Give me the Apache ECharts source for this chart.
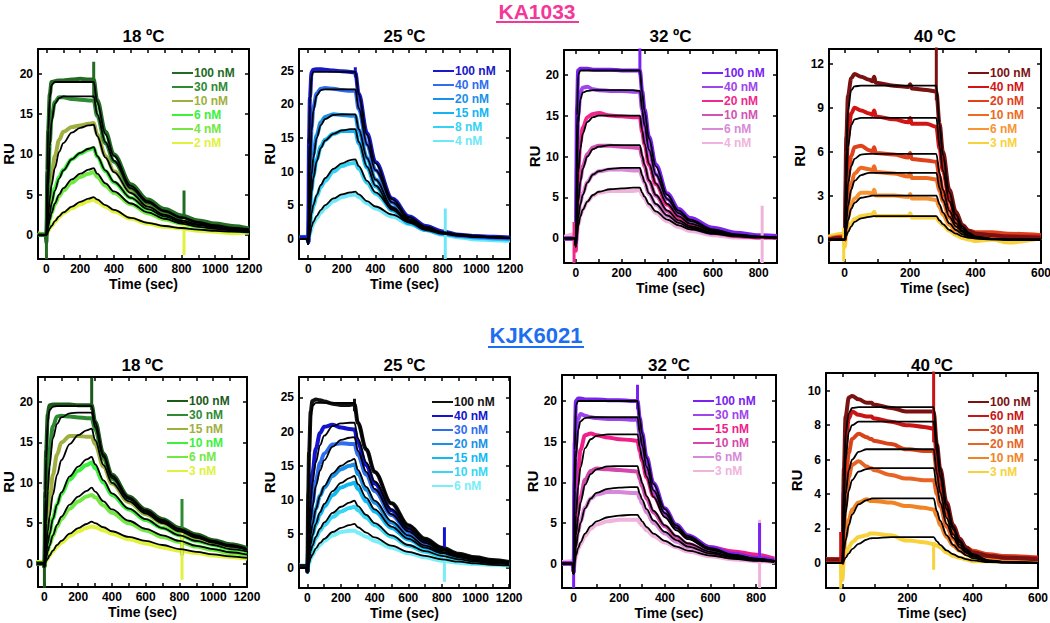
<!DOCTYPE html>
<html><head><meta charset="utf-8">
<script src="https://cdn.jsdelivr.net/npm/echarts@6/dist/echarts.min.js"></script>
<style>html,body{margin:0;padding:0;background:#fff}#c{width:1050px;height:623px}</style>
</head><body><div id="c"></div>
<script>
// ---------- time grids (s) ----------
const tLong  = [-50,-5,0,5,10,20,30,50,75,100,150,200,250,280,300,350,400,500,600,700,800,900,1000,1100,1200];
const tMid   = [-50,-5,0,5,10,20,30,50,75,100,150,200,250,280,290,300,320,350,400,450,500,600,700,800,880];
const tShort = [-50,-5,0,5,10,20,30,50,75,85,90,95,150,195,200,205,250,280,290,300,320,340,360,380,400,450,500,600];

// ---------- tick labels ----------
const xTicksLong = [0,100,200,300,400,500,600,700,800,900,1000,1100,1200];
const xLabelsLong = [0,200,400,600,800,1000,1200];
const xTicksMid = [0,100,200,300,400,500,600,700,800];
const xLabelsMid = [0,200,400,600,800];
const xTicksShort = [0,100,200,300,400,500,600];
const xLabelsShort = [0,200,400,600];
const yTicks20 = [0,5,10,15,20];
const yTicks25 = [0,5,10,15,20,25];
const yTicks12 = [0,3,6,9,12];
const yTicks10 = [0,2,4,6,8,10];

// ---------- KA1033 18 °C ----------
const ka18Conc = ['100 nM','30 nM','10 nM','6 nM','4 nM','2 nM'];
const ka18Data = [
 [0,0,-1,8,13,17.5,19,19.1,19.2,19.2,19.3,19.4,19.3,19.3,16.8,12.8,10.0,6.3,4.4,3.2,2.4,1.8,1.4,1.1,0.8],
 [0,0,0,3,6,11.5,14.5,16.5,17.1,17.1,16.9,16.8,16.7,16.7,14.8,11.4,9.1,5.8,4.0,2.9,2.1,1.5,1.1,0.8,0.6],
 [0,0,0,1.5,3,5.5,7.5,9.8,11.8,12.8,13.4,13.6,13.8,13.9,12.5,9.8,7.9,5.3,3.6,2.6,1.9,1.4,1.0,0.75,0.55],
 [0,0,0,0.8,1.6,3.0,4.2,5.8,7.2,8.1,9.4,10.1,10.6,10.8,9.7,7.9,6.5,4.6,3.2,2.3,1.6,1.2,0.9,0.65,0.5],
 [0,0,0,0.5,1.0,1.9,2.7,3.8,4.8,5.5,6.5,7.2,7.6,7.8,7.2,6.1,5.2,3.8,2.7,1.9,1.4,1.0,0.75,0.55,0.4],
 [0.3,0,0,0.2,0.4,0.8,1.1,1.6,2.2,2.7,3.3,3.8,4.2,4.4,4.1,3.5,2.9,2.0,1.4,1.0,0.8,0.5,0.4,0.2,0.3]
];
const ka18Fit = [
 [0,0,0,8,13,17,18.6,19.0,19.0,19.0,19.0,19.0,19.0,19.0,16.5,12.5,9.8,6.1,4.2,3.0,2.2,1.6,1.2,0.9,0.7],
 [0,0,0,3,6,11,14,16.3,17.0,17.2,17.2,17.2,17.2,17.2,15.0,11.5,9.2,5.8,4.0,2.9,2.1,1.5,1.1,0.8,0.6],
 [0,0,0,1.2,2.3,4.5,6.2,8.3,10.3,11.4,12.7,13.3,13.6,13.7,12.3,9.6,7.8,5.2,3.5,2.5,1.8,1.3,1.0,0.7,0.55],
 [0,0,0,0.7,1.4,2.7,3.9,5.5,7.0,8.0,9.4,10.2,10.7,10.9,9.8,8.0,6.6,4.6,3.2,2.3,1.6,1.2,0.9,0.65,0.5],
 [0,0,0,0.5,1.0,1.9,2.7,3.9,5.0,5.8,6.9,7.6,8.1,8.3,7.6,6.4,5.4,3.9,2.8,2.0,1.4,1.0,0.75,0.55,0.4],
 [0,0,0,0.2,0.4,0.8,1.1,1.7,2.3,2.8,3.5,4.1,4.5,4.7,4.4,3.7,3.1,2.1,1.5,1.1,0.85,0.65,0.5,0.4,0.3]
];
const ka18Spikes = [[0,0,-3,0.5],[0,280,17,21.5],[0,815,1.5,5.5],[5,815,-2.5,2]];

// ---------- KA1033 25 °C ----------
const ka25Conc = ['100 nM','40 nM','20 nM','15 nM','8 nM','4 nM'];
const ka25Data = [
 [0.2,0.2,-0.5,15,21,24.8,25.1,25.2,25.2,25.1,25.0,24.9,24.8,24.7,21.6,15.7,11.4,6.0,3.3,1.9,1.1,0.6,0.4,0.3,0.2],
 [0.2,0.2,-0.5,5.5,10.5,16.5,19.5,21.6,22.3,22.4,22.3,22.1,22.0,22.0,19.3,14.0,10.2,5.4,2.9,1.6,0.9,0.5,0.3,0.2,0.1],
 [0.2,0.2,-0.5,3,6.3,10,12.5,15.4,17.3,18.1,18.5,18.4,18.3,18.3,16.2,12.0,8.8,4.7,2.6,1.4,0.8,0.5,0.3,0.2,0.1],
 [0.2,0.2,-0.5,2,4.3,7.3,9.3,11.8,13.7,14.7,15.6,16.0,16.0,16.0,14.2,10.6,7.8,4.2,2.3,1.3,0.7,0.4,0.2,0.1,0],
 [0.2,0.2,-0.5,0.9,1.9,3.7,4.8,6.3,7.7,8.6,10.0,10.8,11.2,11.3,10.4,8.3,6.7,4.4,2.7,1.5,0.8,0.4,0.2,0,-0.1],
 [0.3,0.3,-0.5,0.3,0.7,1.6,2.3,3.1,3.9,4.6,5.6,6.2,6.5,6.6,6.2,5.3,4.5,3.3,2.2,1.3,0.6,0.2,-0.1,-0.2,-0.3]
];
const ka25Fit = [
 [0,0,-0.8,14,20,24.2,24.8,24.8,24.8,24.8,24.8,24.8,24.8,24.8,21.5,15.5,11.2,5.9,3.2,1.8,1.0,0.6,0.4,0.25,0.15],
 [0,0,-0.8,5,10,16,19,21.3,22.1,22.2,22.2,22.2,22.2,22.2,19.4,14.0,10.2,5.4,2.9,1.6,0.9,0.55,0.35,0.2,0.1],
 [0,0,-0.8,2.8,6,9.5,12,15,16.9,17.8,18.4,18.5,18.5,18.5,16.3,12.0,8.8,4.7,2.6,1.4,0.8,0.5,0.3,0.2,0.1],
 [0,0,-0.8,1.8,4,7,9,11.5,13.5,14.6,15.6,16.1,16.3,16.3,14.4,10.7,7.9,4.3,2.4,1.3,0.75,0.45,0.3,0.2,0.1],
 [0,0,-0.8,0.8,1.8,3.8,5.0,6.5,8.0,9.0,10.4,11.2,11.7,11.8,10.8,8.6,6.9,4.5,2.8,1.6,0.9,0.6,0.4,0.25,0.15],
 [0,0,-0.8,0.2,0.6,1.8,2.5,3.4,4.3,5.0,6.0,6.6,6.9,7.0,6.6,5.6,4.8,3.6,2.5,1.5,0.9,0.6,0.4,0.25,0.15]
];
const ka25Spikes = [[5,815,-3,4.5],[0,280,24,25.5]];

// ---------- KA1033 32 °C ----------
const ka32Conc = ['100 nM','40 nM','20 nM','10 nM','6 nM','4 nM'];
const ka32Data = [
 [0,0,-0.5,16,20.5,20.7,20.7,20.7,20.6,20.6,20.6,20.5,20.5,20.5,18.0,15.8,12.4,9.0,5.5,3.6,2.5,1.3,0.7,0.4,0.3],
 [0,0,-0.5,9,15,17.8,18.4,18.5,18.2,18.1,18.0,18.0,17.9,17.9,15.7,13.8,10.8,7.8,4.8,3.1,2.1,1.0,0.5,0.3,0.2],
 [0,0,-1.5,4.5,8.5,11.8,13.5,14.8,15.2,15.3,15.0,14.9,14.8,14.8,13.0,11.5,9.0,6.6,4.1,2.6,1.7,0.8,0.3,0.1,0.1],
 [0,0,-0.5,2.2,4.8,7.3,8.8,10.3,11.1,11.3,11.3,11.2,11.1,11.0,9.9,8.8,7.0,5.2,3.3,2.2,1.5,0.7,0.3,0.2,0.1],
 [0,0,-0.5,1.2,2.7,4.4,5.5,6.9,7.8,8.2,8.4,8.4,8.3,8.3,7.5,6.8,5.4,4.1,2.7,1.8,1.2,0.6,0.3,0.1,0.1],
 [0.2,0.5,-0.5,0.5,1.6,2.8,3.5,4.5,5.2,5.6,5.8,5.8,5.8,5.9,5.3,4.9,4.0,3.1,2.1,1.4,0.9,0.4,0.1,0.1,0.2]
];
const ka32Fit = [
 [0,0,-1,15,20,20.5,20.5,20.5,20.5,20.5,20.5,20.5,20.5,20.5,17.8,15.6,12.2,8.8,5.3,3.4,2.3,1.1,0.5,0.25,0.1],
 [0,0,-1,8,14,17,17.8,18.0,18.1,18.1,18.1,18.1,18.1,18.0,15.7,13.8,10.8,7.8,4.8,3.1,2.1,1.0,0.45,0.2,0.1],
 [0,0,-1,4,8,11,12.8,14.2,14.8,15.0,15.0,15.0,15.0,15.0,13.2,11.6,9.1,6.7,4.2,2.7,1.8,0.9,0.4,0.2,0.1],
 [0,0,-1,2,4.5,7,8.5,10,10.9,11.2,11.4,11.4,11.4,11.4,10.1,9.0,7.1,5.3,3.4,2.2,1.5,0.75,0.35,0.15,0.1],
 [0,0,-1,1,2.5,4.2,5.3,6.8,7.8,8.2,8.5,8.6,8.6,8.6,7.7,6.9,5.5,4.2,2.8,1.9,1.3,0.65,0.3,0.15,0.1],
 [0,0,-1,0.3,1.5,2.7,3.5,4.5,5.3,5.7,6.0,6.1,6.2,6.2,5.6,5.1,4.2,3.3,2.3,1.6,1.1,0.55,0.25,0.1,0.05]
];
const ka32Spikes = [[2,-8,-3,2],[0,280,20,23.5],[5,815,-3,4]];

// ---------- KA1033 40 °C ----------
const ka40Conc = ['100 nM','40 nM','20 nM','10 nM','6 nM','3 nM'];
const ka40Data = [
 [0,0.1,0,7,9.8,11.0,11.3,11.1,10.9,10.8,11.1,10.7,10.5,10.4,10.6,10.3,10.2,10.1,7.9,6.0,3.4,1.9,1.0,0.6,0.4,0.3,0.2,0.1],
 [0,0.1,0,4.5,7,8.6,9.0,8.8,8.6,8.5,8.8,8.4,8.2,8.0,8.3,7.9,7.9,7.7,6.2,4.7,2.7,1.5,0.9,0.5,0.4,0.3,0.2,0.2],
 [0,0.2,0,2.5,4.2,5.7,6.3,6.4,6.1,6.0,6.3,5.9,5.8,5.6,5.9,5.5,5.4,5.3,4.3,3.3,2.0,1.2,0.8,0.6,0.5,0.5,0.4,0.3],
 [0,0.1,0,1.4,2.5,3.8,4.5,4.9,4.8,4.7,5.0,4.6,4.5,4.3,4.5,4.2,4.2,4.1,3.3,2.6,1.5,0.9,0.6,0.4,0.3,0.3,0.2,0.2],
 [0.1,0.2,0,0.8,1.5,2.4,2.8,3.2,3.2,3.1,3.4,3.0,3.0,2.9,3.1,2.8,2.8,2.7,2.2,1.7,1.0,0.6,0.4,0.3,0.2,0.1,0.1,0.1],
 [0.2,0.4,-0.5,0.4,0.7,1.1,1.4,1.6,1.7,1.7,1.9,1.6,1.6,1.6,1.8,1.5,1.5,1.5,1.2,1.0,0.6,0.3,0.1,0,-0.1,0,-0.2,0.1]
];
const ka40Fit = [
 [0,0,0,6,8.8,10.2,10.45,10.5,10.5,10.5,10.5,10.5,10.5,10.5,10.5,10.5,10.5,10.5,7.8,5.8,3.2,1.7,0.9,0.45,0.2,0.05,0,0],
 [0,0,0,4,6.3,7.8,8.2,8.3,8.3,8.3,8.3,8.3,8.3,8.3,8.3,8.3,8.3,8.3,6.3,4.7,2.6,1.4,0.75,0.4,0.2,0.05,0,0],
 [0,0,0,2.3,3.8,5.0,5.5,5.8,5.85,5.85,5.85,5.85,5.85,5.85,5.85,5.85,5.85,5.85,4.5,3.4,1.95,1.1,0.6,0.3,0.15,0.04,0,0],
 [0,0,0,1.3,2.3,3.4,4.0,4.4,4.55,4.55,4.55,4.55,4.55,4.55,4.55,4.55,4.55,4.55,3.5,2.7,1.55,0.9,0.5,0.25,0.13,0.03,0,0],
 [0,0,0,0.7,1.3,2.1,2.5,2.85,2.95,3.0,3.0,3.0,3.0,3.0,3.0,3.0,3.0,3.0,2.4,1.85,1.1,0.65,0.36,0.2,0.1,0.02,0,0],
 [0,0,0,0.25,0.5,0.9,1.2,1.45,1.55,1.58,1.6,1.6,1.6,1.6,1.6,1.6,1.6,1.6,1.3,1.05,0.65,0.4,0.22,0.12,0.06,0.01,0,0]
];
const ka40Spikes = [[0,280,9.5,13.5],[5,-3,-1.5,0.8]];

// ---------- KJK6021 18 °C ----------
const kj18Conc = ['100 nM','30 nM','15 nM','10 nM','6 nM','3 nM'];
const kj18Data = [
 [0,0,-0.4,9,14,18.5,19.6,19.7,19.7,19.7,19.7,19.6,19.6,19.6,17.6,13.6,11.0,8.3,6.7,5.5,4.4,3.6,2.9,2.4,1.9],
 [0,0,-0.4,3.5,7,11,14,17,18.2,18.3,18.2,18.1,18.0,18.0,16.6,13.0,10.5,7.9,6.4,5.2,4.2,3.4,2.7,2.2,1.8],
 [0,0,-0.4,1.3,2.6,5,7.3,11,13.5,15.0,15.8,15.8,15.7,15.7,14.8,12.0,9.9,7.6,6.1,5.0,4.0,3.2,2.6,2.1,1.7],
 [0,0,-0.4,0.7,1.4,2.7,3.8,5.6,7.3,8.6,10.4,11.5,12.2,12.5,11.8,10.0,8.5,6.7,5.4,4.4,3.5,2.8,2.3,1.8,1.5],
 [0,0,-0.4,0.4,0.8,1.6,2.3,3.4,4.6,5.5,6.8,7.7,8.3,8.5,8.2,7.2,6.3,5.0,4.1,3.3,2.7,2.1,1.7,1.3,1.0],
 [0.2,0.2,-0.4,0.1,0.3,0.6,1.0,1.5,2.1,2.6,3.4,4.0,4.4,4.6,4.5,4.1,3.7,3.0,2.5,2.0,1.6,1.3,1.0,0.8,0.6]
];
const kj18Fit = [
 [0,0,-0.4,8,13,17.5,19,19.4,19.5,19.5,19.5,19.5,19.5,19.5,17.5,13.5,10.9,8.2,6.6,5.4,4.3,3.5,2.8,2.3,1.8],
 [0,0,-0.4,2.5,5,9,12,15.5,17.3,18.1,18.6,18.7,18.7,18.7,16.9,13.2,10.6,8.0,6.4,5.2,4.2,3.4,2.7,2.2,1.8],
 [0,0,-0.4,1,2,4,5.8,8.5,11,12.8,14.8,15.9,16.5,16.7,15.3,12.2,10.0,7.7,6.2,5.0,4.0,3.2,2.6,2.1,1.7],
 [0,0,-0.4,0.6,1.2,2.5,3.6,5.5,7.3,8.8,10.8,12.0,12.9,13.2,12.3,10.3,8.7,6.8,5.5,4.4,3.5,2.8,2.3,1.8,1.5],
 [0,0,-0.4,0.3,0.7,1.5,2.2,3.5,4.8,5.8,7.3,8.3,9.0,9.4,8.9,7.7,6.7,5.3,4.3,3.5,2.8,2.2,1.8,1.4,1.1],
 [0,0,-0.4,0.1,0.3,0.6,1.0,1.6,2.3,2.8,3.7,4.4,4.9,5.2,5.0,4.5,4.0,3.3,2.8,2.3,1.8,1.45,1.15,0.9,0.7]
];
const kj18Spikes = [[0,0,-3,0],[0,280,19,23],[1,815,1,8],[5,815,-2,4]];

// ---------- KJK6021 25 °C ----------
const kj25Conc = ['100 nM','40 nM','30 nM','20 nM','15 nM','10 nM','6 nM'];
const kj25Data = [
 [0.3,0.3,-0.5,11,17,23,24.5,24.7,24.6,24.4,24.1,23.9,23.9,24.0,21.3,17.4,14.1,9.5,6.3,4.3,3.0,2.1,1.6,1.2,0.9],
 [0.3,0.3,-0.5,3.5,7,11.5,14,17.5,19.8,20.7,21.0,20.6,20.4,20.3,18.4,15.1,12.4,8.5,5.8,4.0,2.8,2.0,1.5,1.1,0.85],
 [0.3,0.3,-0.5,2.3,4.5,7.5,9.5,12.8,15.4,16.8,18.1,18.3,18.2,18.2,16.6,13.7,11.3,7.8,5.3,3.7,2.6,1.9,1.4,1.05,0.8],
 [0.3,0.3,-0.5,1.5,3,5.2,6.6,8.7,10.6,11.8,13.5,14.5,15.0,15.2,13.8,11.5,9.6,6.7,4.7,3.3,2.4,1.7,1.25,0.95,0.7],
 [0.3,0.3,-0.5,1.1,2.1,3.7,4.9,6.4,7.9,9.0,10.7,11.8,12.3,12.5,11.6,9.8,8.3,5.9,4.2,3.0,2.2,1.6,1.15,0.85,0.65],
 [0.3,0.3,-0.5,0.6,1.3,2.4,3.2,4.4,5.5,6.3,7.5,8.3,8.8,9.0,8.5,7.4,6.3,4.6,3.3,2.4,1.7,1.2,0.9,0.7,0.55],
 [0.4,0.4,-0.5,0.3,0.7,1.4,1.9,2.7,3.4,4.0,4.8,5.3,5.5,5.5,5.2,4.6,4.0,3.0,2.2,1.6,1.1,0.8,0.6,0.5,0.4]
];
const kj25Fit = [
 [0,0,-0.5,10,16,22,23.8,24.2,24.2,24.2,24.2,24.2,24.2,24.2,21.5,17.5,14.2,9.5,6.3,4.3,3.0,2.1,1.6,1.2,0.9],
 [0,0,-0.5,3,6,10,12.5,15.5,18.0,19.4,20.8,21.2,21.3,21.3,19.0,15.5,12.7,8.6,5.8,4.0,2.8,2.0,1.5,1.1,0.85],
 [0,0,-0.5,2,4,7,9,12,14.3,15.8,17.8,18.8,19.1,19.2,17.2,14.1,11.6,7.9,5.4,3.7,2.6,1.9,1.4,1.05,0.8],
 [0,0,-0.5,1.4,2.8,5,6.4,8.6,10.6,12.0,13.9,15.0,15.7,16.0,14.4,11.9,9.9,6.9,4.8,3.3,2.4,1.7,1.25,0.95,0.7],
 [0,0,-0.5,1,2,3.6,4.8,6.5,8.2,9.4,11.3,12.5,13.2,13.5,12.3,10.3,8.6,6.1,4.3,3.0,2.2,1.6,1.15,0.85,0.65],
 [0,0,-0.5,0.6,1.3,2.5,3.3,4.6,5.8,6.7,8.1,9.0,9.6,9.9,9.1,7.8,6.6,4.8,3.4,2.5,1.8,1.3,0.95,0.7,0.55],
 [0,0,-0.5,0.3,0.7,1.5,2.0,2.9,3.7,4.3,5.3,5.9,6.3,6.5,6.0,5.2,4.5,3.3,2.4,1.8,1.3,0.95,0.7,0.5,0.4]
];
const kj25Spikes = [[1,815,2,6],[6,815,-2,3],[0,280,23,24.8]];

// ---------- KJK6021 32 °C ----------
const kj32Conc = ['100 nM','30 nM','15 nM','10 nM','6 nM','3 nM'];
const kj32Data = [
 [0,0,-1,15,20,20.3,20.3,20.2,20.2,20.2,20.1,20.1,20.0,20.0,17.9,16.1,13.1,9.9,6.8,4.8,3.5,2.0,1.2,0.7,0.4],
 [0,0,-1,10,14.5,17.8,18.4,18.2,18.0,17.9,17.8,17.8,17.7,17.7,15.9,14.4,11.8,8.9,6.2,4.4,3.2,1.8,1.05,0.6,0.35],
 [0,0,-1,3.5,7.5,11.5,14,15.8,16.0,15.8,15.5,15.3,15.2,15.1,13.8,12.6,10.6,8.3,6.0,4.5,3.4,2.0,1.5,1.1,0.6],
 [0,0,-1,1.8,4,6.5,8.2,10.3,11.4,11.7,11.6,11.5,11.4,11.3,10.4,9.5,8.0,6.3,4.6,3.3,2.4,1.4,0.8,0.5,0.3],
 [0,0,-1,1,2.2,3.9,5.2,6.9,8.0,8.5,8.8,8.8,8.7,8.7,8.0,7.4,6.3,5.0,3.7,2.7,2.0,1.2,0.7,0.4,0.25],
 [0.2,0.3,-1,0.2,0.9,1.8,2.4,3.4,4.3,4.8,5.2,5.4,5.4,5.4,5.0,4.7,4.1,3.4,2.6,2.0,1.5,0.9,0.5,0.3,0.2]
];
const kj32Fit = [
 [0,0,-1.3,14,19.5,20.0,20.0,20.0,20.0,20.0,20.0,20.0,20.0,20.0,17.8,16.0,13.0,9.8,6.7,4.7,3.4,1.9,1.1,0.6,0.35],
 [0,0,-1.3,9,13,16.5,17.5,17.9,18.0,18.0,18.0,18.0,18.0,18.0,16.1,14.5,11.9,9.0,6.2,4.4,3.2,1.8,1.05,0.6,0.35],
 [0,0,-1.3,2.5,6,9.5,11.8,14.2,15.3,15.7,15.9,15.9,15.9,15.9,14.3,12.9,10.7,8.2,5.7,4.1,3.0,1.7,1.0,0.55,0.3],
 [0,0,-1.3,1.5,3.5,5.8,7.5,9.7,11.0,11.6,11.95,12.0,12.0,12.0,10.9,9.9,8.3,6.5,4.7,3.4,2.5,1.45,0.85,0.5,0.3],
 [0,0,-1.3,0.8,2,3.7,5.0,6.8,8.0,8.7,9.2,9.35,9.4,9.4,8.6,7.9,6.7,5.3,3.9,2.9,2.1,1.25,0.75,0.45,0.25],
 [0,0,-1.3,0.2,1.0,1.9,2.6,3.7,4.6,5.2,5.7,5.9,6.0,6.0,5.6,5.2,4.5,3.7,2.8,2.1,1.6,1.0,0.6,0.35,0.2]
];
const kj32Spikes = [[0,0,-3,0],[0,280,19,22],[5,815,-3,5.4],[0,815,0.5,5]];

// ---------- KJK6021 40 °C ----------
const kj40Conc = ['100 nM','60 nM','30 nM','20 nM','10 nM','3 nM'];
const kj40Data = [
 [0.2,0.2,0,5.5,8.5,9.6,9.7,9.5,9.3,9.3,9.3,9.2,9.0,8.8,8.8,8.8,8.8,8.8,6.9,5.5,3.5,2.2,1.4,0.9,0.6,0.4,0.3,0.2],
 [0.2,0.2,0.3,4.2,6.8,8.4,8.8,8.6,8.5,8.5,8.5,8.4,8.2,8.0,8.0,8.0,7.9,7.8,6.3,5.0,3.2,2.1,1.3,0.9,0.6,0.4,0.3,0.3],
 [0.2,0.2,0,2.7,4.6,6.4,7.2,7.5,7.3,7.2,7.2,7.1,6.9,6.6,6.6,6.6,6.5,6.5,5.3,4.2,2.8,1.8,1.2,0.9,0.7,0.5,0.4,0.3],
 [0.2,0.2,0,1.9,3.3,5.0,5.7,5.9,5.6,5.5,5.5,5.4,5.1,4.9,4.9,4.9,4.8,4.8,4.0,3.3,2.1,1.4,0.9,0.6,0.5,0.4,0.3,0.2],
 [0.2,0.2,0,0.8,1.5,2.5,3.1,3.5,3.7,3.6,3.6,3.6,3.5,3.3,3.3,3.3,3.2,3.1,2.7,2.2,1.5,1.0,0.7,0.5,0.4,0.3,0.2,0.2],
 [0.1,0.1,-1,0.3,0.5,0.9,1.2,1.5,1.6,1.7,1.7,1.7,1.6,1.3,1.3,1.3,1.2,1.1,1.0,0.9,0.6,0.4,0.3,0.2,0.1,0.1,0.1,0.2]
];
const kj40Fit = [
 [0,0,0,5,7.5,8.7,9.0,9.05,9.05,9.05,9.05,9.05,9.05,9.05,9.05,9.05,9.05,9.05,7.0,5.5,3.4,2.1,1.3,0.8,0.5,0.15,0.05,0],
 [0,0,0,3.8,6,7.6,8.0,8.2,8.2,8.2,8.2,8.2,8.2,8.2,8.2,8.2,8.2,8.2,6.4,5.0,3.1,1.95,1.2,0.75,0.45,0.13,0.04,0],
 [0,0,0,2.4,4.0,5.4,6.0,6.45,6.6,6.6,6.6,6.6,6.6,6.6,6.6,6.6,6.6,6.6,5.2,4.1,2.6,1.65,1.05,0.65,0.4,0.12,0.04,0],
 [0,0,0,1.7,2.9,4.2,4.8,5.3,5.45,5.5,5.5,5.5,5.5,5.5,5.5,5.5,5.5,5.5,4.4,3.5,2.25,1.45,0.9,0.58,0.36,0.1,0.03,0],
 [0,0,0,0.7,1.3,2.2,2.8,3.4,3.65,3.7,3.75,3.75,3.75,3.75,3.75,3.75,3.75,3.75,3.0,2.45,1.6,1.05,0.68,0.44,0.28,0.08,0.02,0],
 [0,0,0,0.15,0.3,0.55,0.8,1.1,1.35,1.42,1.43,1.44,1.5,1.5,1.5,1.5,1.5,1.5,1.25,1.05,0.72,0.5,0.33,0.22,0.14,0.04,0.01,0]
];
const kj40Spikes = [[1,280,7,11.5],[5,280,-0.4,1.2],[1,-5,0,1.8],[5,-5,-1.5,0]];

// ---------- styles & layout ----------
const FONT = 'Liberation Sans, Arial, Helvetica, sans-serif';
const greens1 = ['#236b23','#2e8b34','#a0b040','#3cf03c','#72e842','#e0f23e'];
const greens2 = ['#1c5a1c','#2e8b34','#a0b040','#3cf03c','#72e842','#e0f23e'];
const blues1  = ['#1818c8','#2e6cf0','#1a8fe6','#12b4f2','#36d2f4','#6ee8f8'];
const blues2  = ['#111111','#1414d0','#2e6cf0','#1a90e6','#12b8f2','#36d6f4','#78eef8'];
const purples1= ['#7a22f0','#a044ec','#f0288c','#d452b4','#d88ad8','#f0b4dc'];
const purples2= ['#7a22f0','#a044ec','#f0208a','#d448ac','#d888d8','#f0b4dc'];
const reds1   = ['#7a1212','#d21414','#e0401a','#ec6a24','#f89432','#f8d23a'];
const reds2   = ['#7a1212','#c81414','#d8441a','#e86424','#f08424','#f8d23a'];

const panels = [
 {id:'ka18',title:'18 ºC',t:tLong,conc:ka18Conc,data:ka18Data,fit:ka18Fit,spk:ka18Spikes,col:greens1,box:[38,49,211,210],xr:[-50,1200],xt:xTicksLong,xl:xLabelsLong,yr:[-3,23.1],yt:yTicks20,leg:[172,66],ruGap:19,ty:36},
 {id:'ka25',title:'25 ºC',t:tLong,conc:ka25Conc,data:ka25Data,fit:ka25Fit,spk:ka25Spikes,col:blues1,box:[299,49,211,210],xr:[-55,1200],xt:xTicksLong,xl:xLabelsLong,yr:[-3,28.2],yt:yTicks25,leg:[433,64],ruGap:20,ty:36},
 {id:'ka32',title:'32 ºC',t:tMid,conc:ka32Conc,data:ka32Data,fit:ka32Fit,spk:ka32Spikes,col:purples1,box:[564,50,213,213],xr:[-52,880],xt:xTicksMid,xl:xLabelsMid,yr:[-3,23],yt:yTicks20,leg:[702,66],ruGap:20,ty:36},
 {id:'ka40',title:'40 ºC',t:tShort,conc:ka40Conc,data:ka40Data,fit:ka40Fit,spk:ka40Spikes,col:reds1,box:[829,49,212,214],xr:[-48,600],xt:xTicksShort,xl:xLabelsShort,yr:[-1.6,13],yt:yTicks12,leg:[968,66],ruGap:19,ty:36},
 {id:'kj18',title:'18 ºC',t:tLong,conc:kj18Conc,data:kj18Data,fit:kj18Fit,spk:kj18Spikes,col:greens2,box:[38,377,209,210],xr:[-38,1200],xt:xTicksLong,xl:xLabelsLong,yr:[-2.9,23.1],yt:yTicks20,leg:[167,394],ruGap:21,ty:365},
 {id:'kj25',title:'25 ºC',t:tLong,conc:kj25Conc,data:kj25Data,fit:kj25Fit,spk:kj25Spikes,col:blues2,box:[299,377,211,211],xr:[-50,1205],xt:xTicksLong,xl:xLabelsLong,yr:[-2.9,28],yt:yTicks25,leg:[432,395],ruGap:21,ty:365},
 {id:'kj32',title:'32 ºC',t:tMid,conc:kj32Conc,data:kj32Data,fit:kj32Fit,spk:kj32Spikes,col:purples2,box:[562,375,214,213],xr:[-51,887],xt:xTicksMid,xl:xLabelsMid,yr:[-3,23.2],yt:yTicks20,leg:[693,394],ruGap:22,ty:365},
 {id:'kj40',title:'40 ºC',t:tShort,conc:kj40Conc,data:kj40Data,fit:kj40Fit,spk:kj40Spikes,col:reds2,box:[826,373,212,215],xr:[-50,600],xt:xTicksShort,xl:xLabelsShort,yr:[-1.46,11.03],yt:yTicks10,leg:[968,395],ruGap:19,ty:365}
];

const grid=[], xAxis=[], yAxis=[], series=[], legend=[], graphic=[];
const axLine = {onZero:false, lineStyle:{color:'#000',width:2}};
const lblStyle = {color:'#000',fontWeight:'bold',fontSize:12,fontFamily:FONT,formatter:v=>String(v)};

panels.forEach((p,k)=>{
  const [l,t,w,h]=p.box;
  grid.push({left:l,top:t,width:w,height:h,containLabel:false,outerBoundsMode:'none'});
  xAxis.push({type:'value',gridIndex:k,min:p.xr[0],max:p.xr[1],position:'bottom',
    axisLine:axLine,splitLine:{show:false},
    axisTick:{inside:true,length:4,customValues:p.xt,lineStyle:{color:'#000',width:1.5}},
    axisLabel:Object.assign({customValues:p.xl,margin:4},lblStyle),
    name:'Time (sec)',nameLocation:'middle',nameGap:18,
    nameTextStyle:{color:'#000',fontWeight:'bold',fontSize:14,fontFamily:FONT}});
  xAxis.push({type:'value',gridIndex:k,min:p.xr[0],max:p.xr[1],position:'top',
    axisLine:axLine,splitLine:{show:false},axisLabel:{show:false},
    axisTick:{inside:true,length:4,customValues:p.xt,lineStyle:{color:'#000',width:1.5}}});
  yAxis.push({type:'value',gridIndex:k,min:p.yr[0],max:p.yr[1],position:'left',
    axisLine:axLine,splitLine:{show:false},
    axisTick:{inside:true,length:4,customValues:p.yt,lineStyle:{color:'#000',width:1.5}},
    axisLabel:Object.assign({customValues:p.yt,margin:5},lblStyle),
    name:'RU',nameLocation:'middle',nameGap:p.ruGap,
    nameTextStyle:{color:'#000',fontWeight:'bold',fontSize:15,fontFamily:FONT}});
  yAxis.push({type:'value',gridIndex:k,min:p.yr[0],max:p.yr[1],position:'right',
    axisLine:axLine,splitLine:{show:false},axisLabel:{show:false},
    axisTick:{inside:true,length:4,customValues:p.yt,lineStyle:{color:'#000',width:1.5}}});
  const xi=2*k, yi=2*k;
  // measured data (low conc first so high conc is drawn on top)
  for(let i=p.conc.length-1;i>=0;i--){
    series.push({type:'line',name:p.id+'|'+p.conc[i],xAxisIndex:xi,yAxisIndex:yi,
      data:p.t.map((x,j)=>[x,p.data[i][j]]),showSymbol:false,symbol:'none',
      smooth:0.35,smoothMonotone:'x',color:p.col[i],
      lineStyle:{color:p.col[i],width:4},z:2,silent:true,animation:false});
  }
  p.spk.forEach((s,m)=>{
    series.push({type:'line',name:p.id+'spk'+m,xAxisIndex:xi,yAxisIndex:yi,
      data:[[s[1],s[2]],[s[1],s[3]]],showSymbol:false,symbol:'none',color:p.col[s[0]],
      lineStyle:{color:p.col[s[0]],width:3},z:2,silent:true,animation:false});
  });
  // fitted curves
  p.fit.forEach((f,i)=>{
    series.push({type:'line',name:p.id+'fit'+i,xAxisIndex:xi,yAxisIndex:yi,
      data:p.t.map((x,j)=>[x,f[j]]),showSymbol:false,symbol:'none',
      smooth:0.35,smoothMonotone:'x',color:'#000',
      lineStyle:{color:'#000',width:1.8},z:3,silent:true,animation:false});
  });
  legend.push({orient:'vertical',left:p.leg[0],top:p.leg[1],padding:0,itemGap:0,
    itemWidth:21,itemHeight:2,icon:'rect',selectedMode:false,
    textStyle:{fontSize:12,fontWeight:'bold',fontFamily:FONT,lineHeight:14,padding:[0,0,0,-4]},
    formatter:n=>n.split('|')[1],
    data:p.conc.map((c,i)=>({name:p.id+'|'+c,textStyle:{color:p.col[i]}}))});
  graphic.push({type:'text',x:l+w/2,y:p.ty,silent:true,
    style:{text:p.title,fill:'#000',font:'bold 17px '+FONT,align:'center',verticalAlign:'middle'}});
});

// compound headings
graphic.push({type:'text',x:537,y:11,silent:true,style:{text:'KA1033',fill:'#f5379a',font:'bold 21px '+FONT,align:'center',verticalAlign:'middle'}});
graphic.push({type:'line',silent:true,shape:{x1:496,y1:22,x2:579,y2:22},style:{stroke:'#f5379a',lineWidth:2}});
graphic.push({type:'text',x:536,y:335,silent:true,style:{text:'KJK6021',fill:'#1e6ef0',font:'bold 22px '+FONT,align:'center',verticalAlign:'middle'}});
graphic.push({type:'line',silent:true,shape:{x1:488,y1:347,x2:584,y2:347},style:{stroke:'#1e6ef0',lineWidth:2}});

const chart = echarts.init(document.getElementById('c'),null,{renderer:'svg'});
chart.setOption({animation:false,backgroundColor:'#fff',grid,xAxis,yAxis,series,legend,graphic});
</script></body></html>
